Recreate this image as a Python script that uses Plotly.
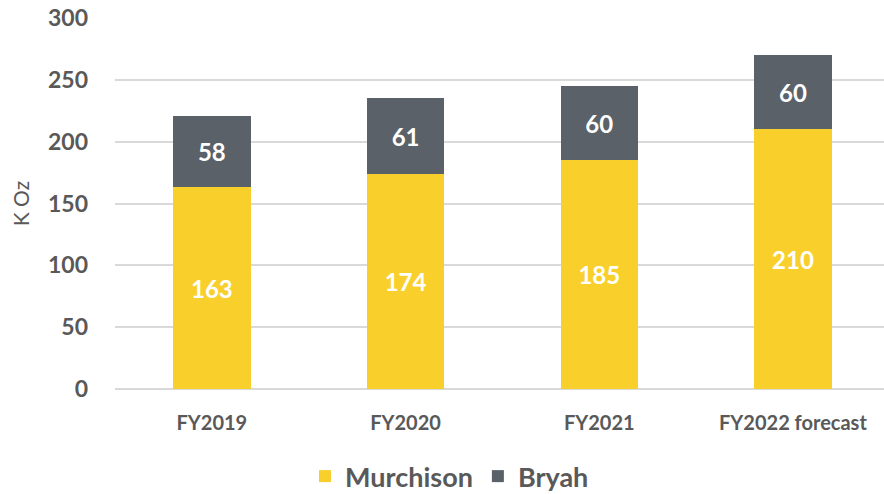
import plotly.graph_objects as go

categories = ["FY2019", "FY2020", "FY2021", "FY2022 forecast"]
murchison = [163, 174, 185, 210]
bryah = [58, 61, 60, 60]
y_ticks = [0, 50, 100, 150, 200, 250, 300]

YELLOW = "#F9D02B"
GREY = "#5A6169"
TXT = "#595959"
FONT = "Lato"

fig = go.Figure()
fig.add_trace(go.Bar(
    x=categories, y=murchison, name="Murchison",
    marker=dict(color=YELLOW, line=dict(width=0)),
    text=[str(v) for v in murchison], textposition="inside",
    insidetextanchor="middle",
    textfont=dict(family=FONT, size=24, color="white", weight="bold"),
    width=0.4,
))
fig.add_trace(go.Bar(
    x=categories, y=bryah, name="Bryah",
    marker=dict(color=GREY, line=dict(width=0)),
    text=[str(v) for v in bryah], textposition="inside",
    insidetextanchor="middle",
    textfont=dict(family=FONT, size=24, color="white", weight="bold"),
    width=0.4,
))

fig.update_layout(
    barmode="stack",
    width=884, height=494,
    margin=dict(l=115, r=0, t=18, b=105, autoexpand=False),
    plot_bgcolor="white", paper_bgcolor="white",
    font=dict(family=FONT, color=TXT),
    uniformtext=dict(mode=False),
    showlegend=True,
    legend=dict(
        orientation="h", x=0.435, xanchor="center", y=-0.17, yanchor="top",
        font=dict(family=FONT, size=27, color=TXT, weight="bold"),
        itemwidth=30, traceorder="normal",
    ),
    xaxis=dict(
        range=[-0.5, 3.47], automargin=False,
        tickfont=dict(family=FONT, size=20, color=TXT, weight="bold"),
        showgrid=False, showline=False, ticks="", ticklabelstandoff=20,
    ),
    yaxis=dict(
        range=[0, 300], tickvals=y_ticks, automargin=False,
        tickfont=dict(family=FONT, size=23, color=TXT, weight="bold"),
        showgrid=True, gridcolor="#D9D9D9", gridwidth=1.5,
        zeroline=True, zerolinecolor="#D9D9D9", zerolinewidth=1.5,
        ticks="", ticklabelstandoff=26,
        title=dict(text="K Oz", font=dict(family=FONT, size=21, color=TXT), standoff=12),
    ),
)

fig.write_html("out.html", config={"displayModeBar": False},
               post_script="document.body.style.margin='0';")
